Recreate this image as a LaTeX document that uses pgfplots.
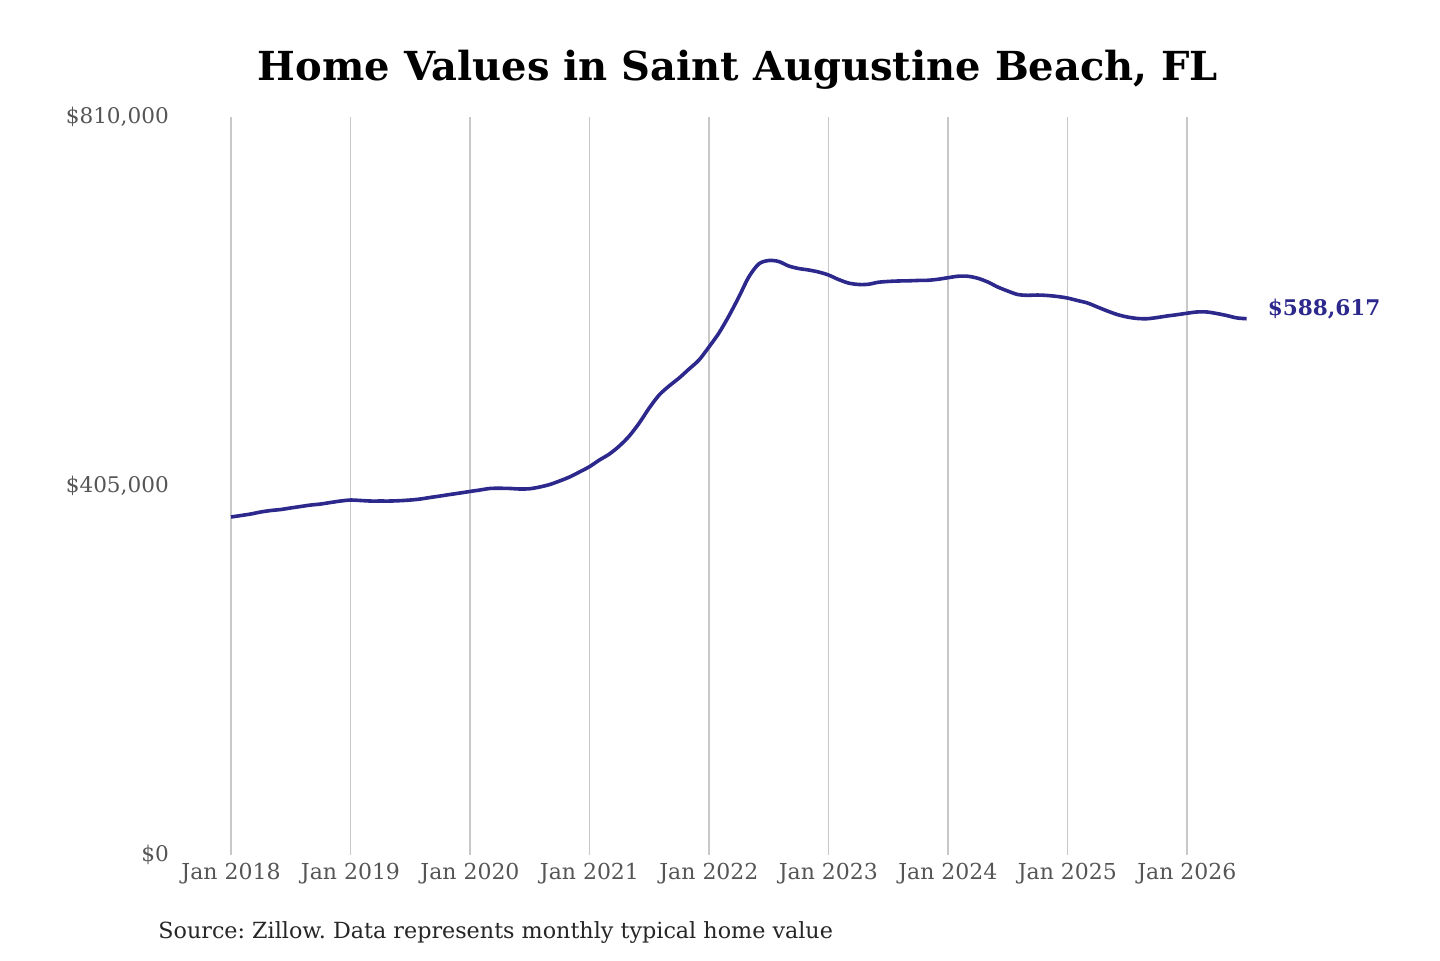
\documentclass[border=0pt]{standalone}
\usepackage{pgfplots}
\pgfplotsset{compat=1.18}
\usepackage{fontspec}
\setmainfont{DejaVu Serif}
\frenchspacing
\definecolor{linec}{RGB}{44,40,140}
\definecolor{gridc}{RGB}{200,200,200}
\definecolor{tickc}{RGB}{85,85,85}
\begin{document}
\begin{tikzpicture}
\path[use as bounding box] (0,0) rectangle (720pt,480pt);
\begin{axis}[
  at={(85.625pt,52.5pt)}, anchor=south west,
  scale only axis, width=543.7pt, height=369pt,
  xmin=2017.5, xmax=2026.6, ymin=0, ymax=810000,
  clip=false,
  scaled y ticks=false,
  axis line style={draw=none},
  tick style={draw=none},
  xmajorgrids, grid style={gridc, line width=0.6pt},
  xtick={2018,2019,2020,2021,2022,2023,2024,2025,2026},
  xticklabels={Jan 2018,Jan 2019,Jan 2020,Jan 2021,Jan 2022,Jan 2023,Jan 2024,Jan 2025,Jan 2026},
  ytick={0,405000,810000},
  yticklabels={{\$0},{\$405,000},{\$810,000}},
  ticklabel style={font=\fontsize{11}{13}\selectfont, text=tickc},
  yticklabel style={anchor=east, inner sep=1pt, font=\fontsize{10.8}{13}\selectfont},
  xticklabel style={anchor=north, inner sep=1pt, yshift=-3pt},
]
\addplot[linec, line width=1.8pt, smooth] table[x expr=2018+\thisrowno{0}/12, y expr=\thisrowno{1}*1000] {
0 371.0
1 372.6
2 374.3
3 376.5
4 378.1
5 379.2
6 380.9
7 382.5
8 384.1
9 385.2
10 386.9
11 388.5
12 389.6
13 389.1
14 388.5
15 388.5
16 388.5
17 388.9
18 389.6
19 390.7
20 392.4
21 394.0
22 395.7
23 397.3
24 399.0
25 400.6
26 402.3
27 402.5
28 402.3
29 401.7
30 402.0
31 403.9
32 406.6
33 410.5
34 414.9
35 420.4
36 426.2
37 433.5
38 440.1
39 448.9
40 459.9
41 474.1
42 490.6
43 504.9
44 514.8
45 523.5
46 533.4
47 543.3
48 557.6
49 572.9
50 591.6
51 612.4
52 634.4
53 648.7
54 652.5
55 651.4
56 646.5
57 643.7
58 642.1
59 639.9
60 636.6
61 631.7
62 627.8
63 626.2
64 626.4
65 628.6
66 629.5
67 630.0
68 630.2
69 630.6
70 630.8
71 631.9
72 633.6
73 635.2
74 635.2
75 633.0
76 628.9
77 623.4
78 619.0
79 615.2
80 614.3
81 614.6
82 614.1
83 613.0
84 611.3
85 608.6
86 605.9
87 601.5
88 597.1
89 593.2
90 590.5
91 588.9
92 588.6
93 589.9
94 591.6
95 593.0
96 594.6
97 596.0
98 596.0
99 594.3
100 592.1
101 589.5
102 588.617
};
\addplot[draw=none, mark=none, nodes near coords={\textbf{\$588,617}}, nodes near coords style={anchor=west, text=linec, font=\fontsize{10.8}{13}\selectfont, xshift=7pt, yshift=5pt}] coordinates {(2026.5,588617)};
\end{axis}
\node[font=\bfseries\fontsize{20}{24}\selectfont, text=black] at (369pt,445pt) {Home Values in Saint Augustine Beach, FL};
\node[font=\fontsize{11.13}{13}\selectfont, text=black!85, anchor=west, inner sep=0pt] at (79pt,13.5pt) {Source: Zillow. Data represents monthly typical home value};
\end{tikzpicture}
\end{document}
